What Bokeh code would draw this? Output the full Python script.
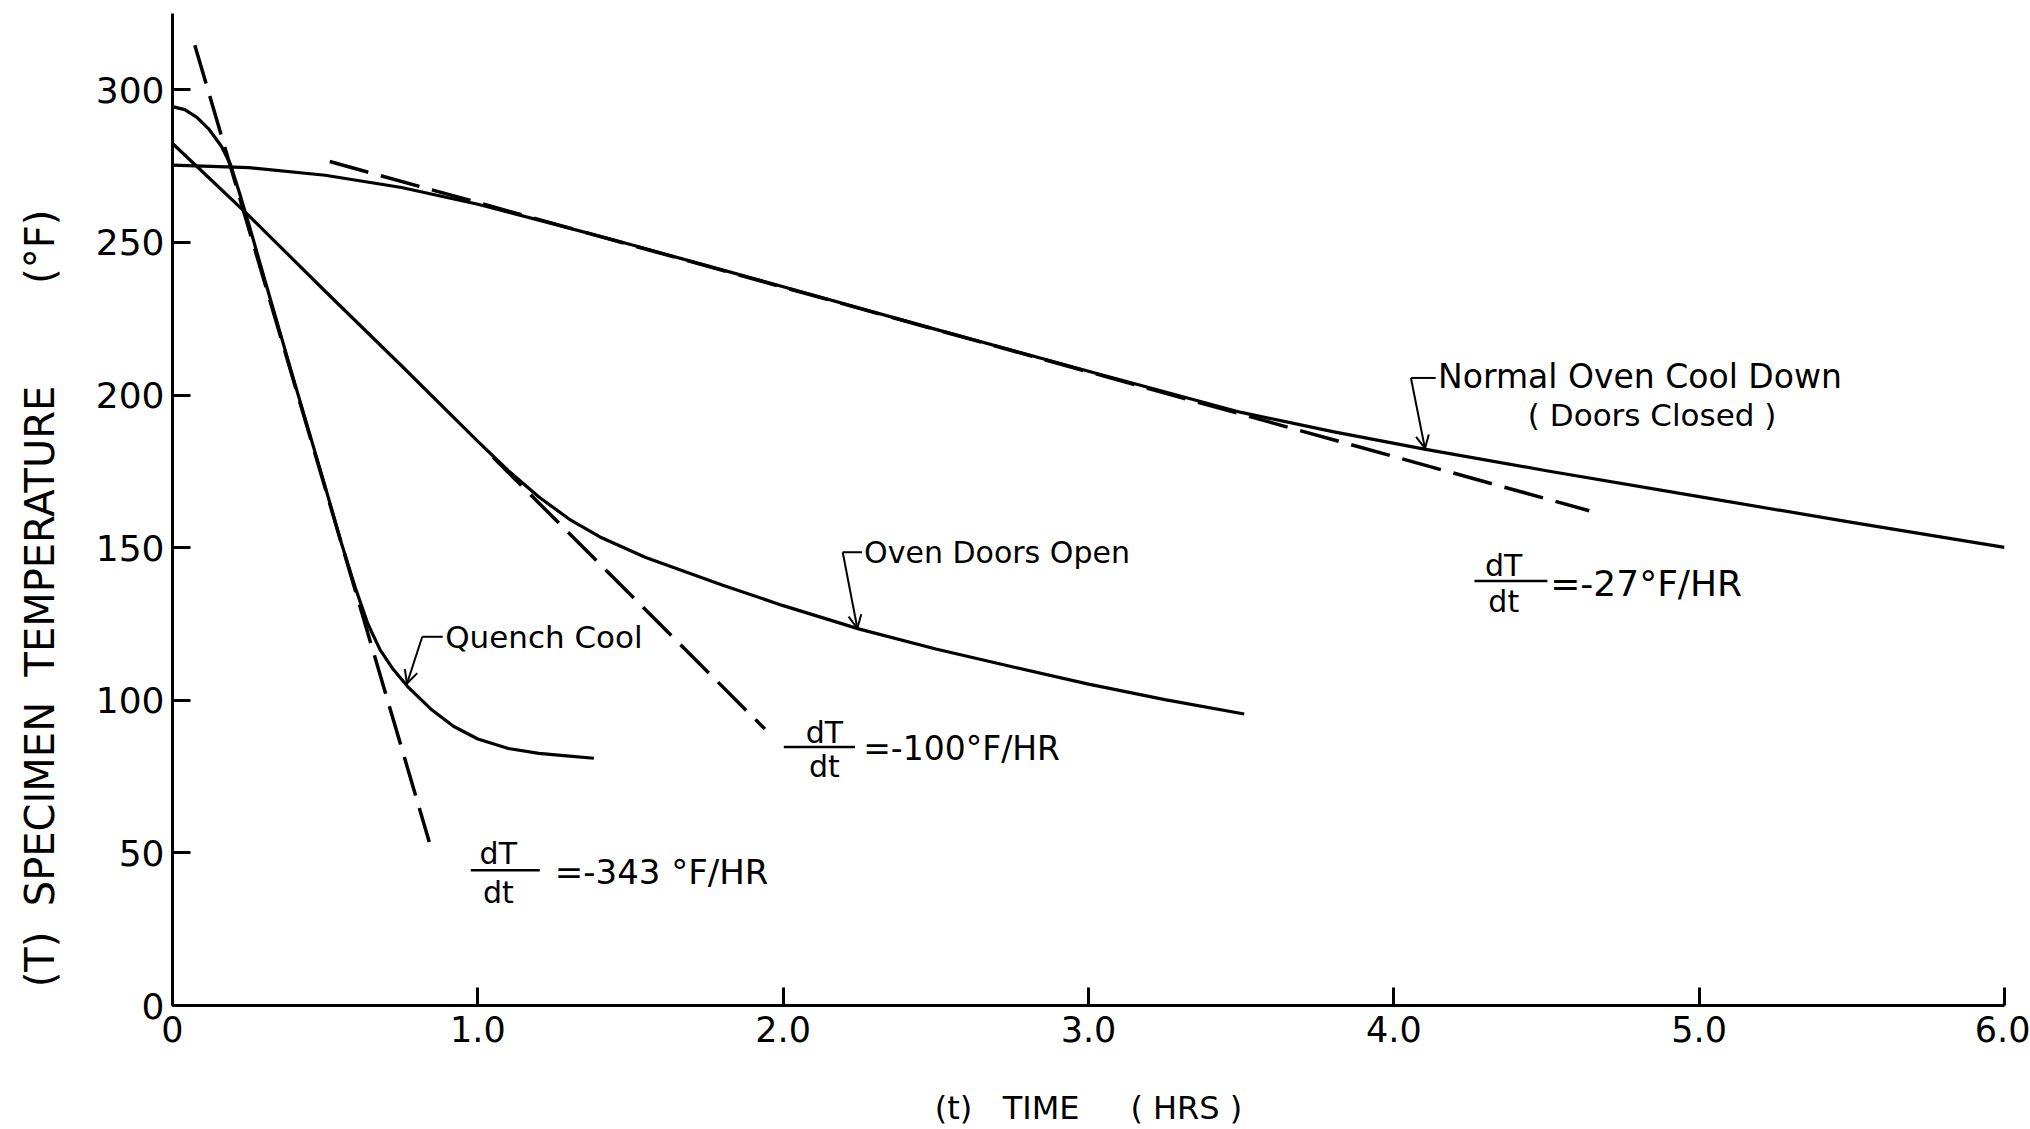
from bokeh.plotting import figure
from bokeh.models import Range1d, FixedTicker, Arrow, OpenHead
from bokeh.embed import file_html
from bokeh.resources import INLINE
from bokeh.core.properties import value

# ---------------- data ----------------
normal_t = [0, 0.25, 0.5, 0.75, 1.0, 1.25, 1.5, 1.75, 2.0, 2.5, 3.0, 3.5, 3.8, 4.1, 4.5, 5.0, 5.5, 6.0]
normal_T = [275.3, 274.5, 272.0, 268.0, 262.5, 256.0, 249.3, 242.4, 235.5, 221.5, 207.8, 194.3, 188.0, 182.3, 175.2, 166.7, 158.3, 150.1]

open_t = [0, 0.1, 0.25, 0.5, 0.75, 1.0, 1.1, 1.2, 1.3, 1.4, 1.55, 1.8, 2.0, 2.25, 2.5, 2.75, 3.0, 3.25, 3.51]
open_T = [282.4, 273.0, 258.8, 234.0, 209.6, 184.8, 175.2, 166.6, 159.3, 153.5, 146.8, 137.8, 131.0, 123.3, 116.8, 111.0, 105.3, 100.2, 95.5]

quench_t = [0, 0.04, 0.08, 0.12, 0.16, 0.19, 0.22, 0.25, 0.3, 0.4, 0.5, 0.55, 0.6, 0.64, 0.68, 0.72, 0.77, 0.85, 0.92, 1.0, 1.1, 1.2, 1.3, 1.38]
quench_T = [294.5, 293.5, 291.0, 287.0, 281.5, 275.5, 266.0, 256.0, 238.5, 204.0, 170.0, 152.5, 136.5, 125.0, 116.5, 110.5, 104.5, 96.8, 91.5, 87.3, 84.2, 82.6, 81.7, 81.0]

# tangent lines (end points)
tan_quench_t = [0.073, 0.841]
tan_quench_T = [314.6, 53.6]
tan_open_t = [1.05, 1.94]
tan_open_T = [179.6, 90.6]
tan_normal_t = [0.515, 4.64]
tan_normal_T = [276.5, 162.1]

series_names = ["Quench Cool", "Oven Doors Open", "Normal Oven Cool Down", "( Doors Closed )"]
slope_texts = ["=-343 °F/HR", "=-100°F/HR", "=-27°F/HR"]

x_ticks = [0, 1, 2, 3, 4, 5, 6]
x_tick_labels = ["0", "1.0", "2.0", "3.0", "4.0", "5.0", "6.0"]
y_ticks = [0, 50, 100, 150, 200, 250, 300]
y_tick_labels = ["0", "50", "100", "150", "200", "250", "300"]

NB = "\u00a0"
x_label = "(t)" + NB * 3 + "TIME" + NB * 5 + "(" + NB + "HRS" + NB + ")"
y_label = "(T)" + NB * 2 + "SPECIMEN" + NB * 2 + "TEMPERATURE" + NB * 8 + "(°F)" + NB * 14

FONT = "DejaVu Sans"

# ---------------- figure ----------------
p = figure(width=2030, height=1129, x_range=Range1d(0, 6), y_range=Range1d(0, 325),
           output_backend="svg", toolbar_location=None,
           min_border_left=172, min_border_right=26, min_border_top=13, min_border_bottom=122)
p.xgrid.visible = False
p.ygrid.visible = False
p.outline_line_color = None
p.background_fill_color = "white"
p.border_fill_color = "white"

for ax in (p.xaxis[0], p.yaxis[0]):
    ax.axis_line_width = 3
    ax.axis_line_color = "black"
    ax.major_tick_in = 18
    ax.major_tick_out = 0
    ax.major_tick_line_width = 3
    ax.major_tick_line_color = "black"
    ax.minor_tick_line_color = None
    ax.major_label_text_font = FONT
    ax.major_label_text_color = "black"
    ax.axis_label_text_font = FONT
    ax.axis_label_text_font_style = "normal"
    ax.axis_label_text_color = "black"

p.xaxis.ticker = FixedTicker(ticks=x_ticks)
p.xaxis.major_label_overrides = {t: l for t, l in zip(x_ticks, x_tick_labels)}
p.xaxis.major_label_text_font_size = "35px"
p.xaxis.major_label_standoff = 10
p.xaxis.axis_label = x_label
p.xaxis.axis_label_text_font_size = "32px"
p.xaxis.axis_label_standoff = 44

p.yaxis.ticker = FixedTicker(ticks=y_ticks)
p.yaxis.major_label_overrides = {t: l for t, l in zip(y_ticks, y_tick_labels)}
p.yaxis.major_label_text_font_size = "36px"
p.yaxis.major_label_standoff = 8
p.yaxis.major_label_orientation = "horizontal"
p.yaxis.axis_label = y_label
p.yaxis.axis_label_text_font_size = "40px"
p.yaxis.axis_label_standoff = 30

# ---------------- tangent (dashed) lines ----------------
DASH = "40 13"
p.line(tan_quench_t, tan_quench_T, line_color="black", line_width=3.5, line_dash=DASH)
p.line(tan_open_t, tan_open_T, line_color="black", line_width=3.5, line_dash=DASH)
p.line(tan_normal_t, tan_normal_T, line_color="black", line_width=3.5, line_dash=DASH)

# ---------------- curves ----------------
p.line(normal_t, normal_T, line_color="black", line_width=3.2, line_join="round")
p.line(open_t, open_T, line_color="black", line_width=3.2, line_join="round")
p.line(quench_t, quench_T, line_color="black", line_width=3.2, line_join="round")

# ---------------- curve labels with leaders ----------------
def leader(cx, cy, hx, tx, ty):
    p.line([cx, hx], [cy, cy], line_color="black", line_width=2)
    p.add_layout(Arrow(end=OpenHead(size=13, line_width=2, line_color="black"),
                       x_start=cx, y_start=cy, x_end=tx, y_end=ty,
                       line_color="black", line_width=2))

leader(0.818, 120.8, 0.885, 0.768, 105.5)
leader(2.195, 148.5, 2.258, 2.243, 123.6)
leader(4.056, 205.6, 4.137, 4.102, 182.5)

p.text(x=[0.893], y=[120.8], text=[series_names[0]], text_font=value(FONT), text_font_size="31px",
       text_baseline="middle", text_align="left", text_color="black")
p.text(x=[2.265], y=[148.5], text=[series_names[1]], text_font=value(FONT), text_font_size="30px",
       text_baseline="middle", text_align="left", text_color="black")
p.text(x=[4.145], y=[206.0], text=[series_names[2]], text_font=value(FONT), text_font_size="33px",
       text_baseline="middle", text_align="left", text_color="black")
p.text(x=[4.846], y=[193.4], text=[series_names[3]], text_font=value(FONT), text_font_size="31px",
       text_baseline="middle", text_align="center", text_color="black")

# ---------------- slope annotations (dT/dt fractions) ----------------
def fraction(x0, x1, yb, xc, ytop, ybot, xtext, ytext, txt, size):
    p.line([x0, x1], [yb, yb], line_color="black", line_width=2.5)
    p.text(x=[xc], y=[ytop], text=["dT"], text_font=value(FONT), text_font_size="30px",
           text_baseline="middle", text_align="center", text_color="black")
    p.text(x=[xc], y=[ybot], text=["dt"], text_font=value(FONT), text_font_size="30px",
           text_baseline="middle", text_align="center", text_color="black")
    p.text(x=[xtext], y=[ytext], text=[txt], text_font=value(FONT), text_font_size=size,
           text_baseline="middle", text_align="left", text_color="black")

fraction(0.977, 1.203, 44.3, 1.067, 49.8, 37.0, 1.252, 43.7, slope_texts[0], "34px")
fraction(2.002, 2.235, 84.7, 2.135, 89.6, 78.2, 2.262, 84.1, slope_texts[1], "33px")
fraction(4.264, 4.503, 139.1, 4.360, 144.2, 132.2, 4.512, 138.4, slope_texts[2], "36px")

open("out.html", "w").write(file_html(p, INLINE))
